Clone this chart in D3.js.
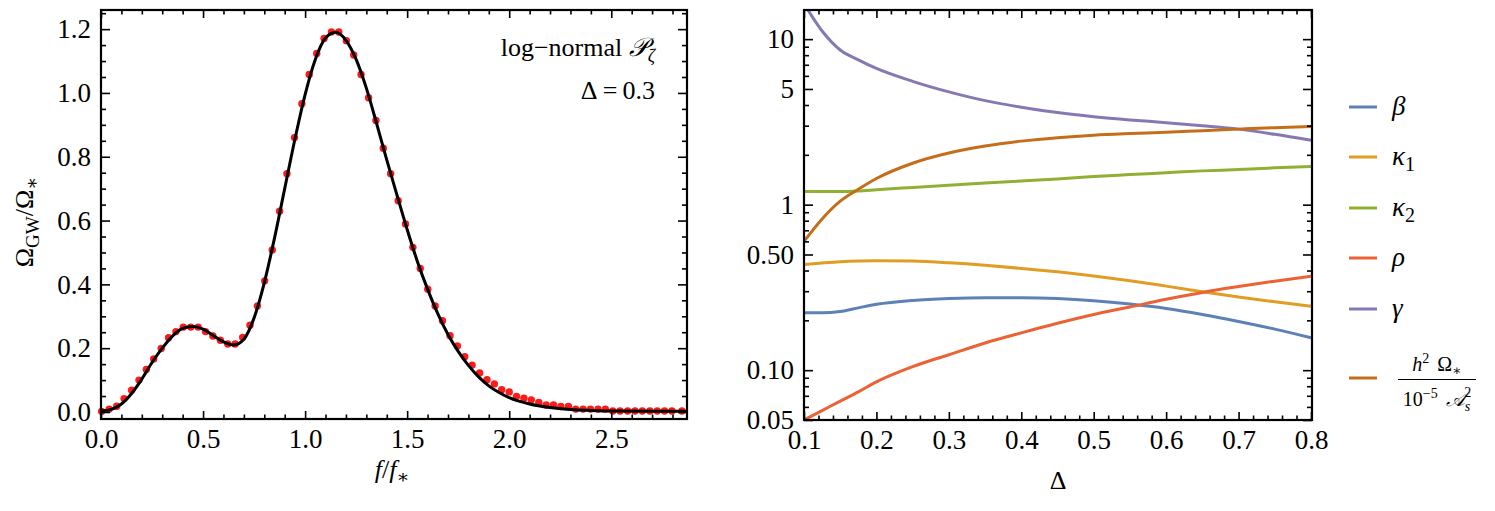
<!DOCTYPE html>
<html>
<head>
<meta charset="utf-8">
<script src="https://cdn.jsdelivr.net/npm/d3@7"></script>
<style>
  body { margin: 0; background: #fff; }
  svg text { font-family: "Liberation Serif", "Times New Roman", Tinos, Times, "DejaVu Serif", "Noto Serif", serif; fill: #000; }
</style>
</head>
<body>
<svg id="chart" width="1495" height="511"></svg>
<script>
// Left panel: numerical points (red) and the fitted curve (black), f/f* vs Omega_GW/Omega_*
var dotX = [0.003, 0.040, 0.077, 0.113, 0.150, 0.186, 0.222, 0.258, 0.295, 0.331,
            0.367, 0.403, 0.440, 0.476, 0.512, 0.548, 0.585, 0.621, 0.657, 0.694,
            0.730, 0.766, 0.802, 0.839, 0.875, 0.911, 0.948, 0.984, 1.020, 1.057,
            1.093, 1.129, 1.165, 1.202, 1.238, 1.274, 1.311, 1.347, 1.383, 1.419,
            1.456, 1.492, 1.528, 1.564, 1.601, 1.637, 1.673, 1.710, 1.746, 1.782,
            1.818, 1.855, 1.891, 1.927, 1.963, 2.000, 2.036, 2.072, 2.108, 2.145,
            2.181, 2.217, 2.253, 2.290, 2.326, 2.362, 2.398, 2.435, 2.471, 2.507,
            2.543, 2.580, 2.616, 2.652, 2.689, 2.725, 2.761, 2.797, 2.846];
var dotY = [0.002, 0.009, 0.018, 0.042, 0.068, 0.100, 0.133, 0.166, 0.199, 0.233,
            0.252, 0.266, 0.266, 0.266, 0.252, 0.238, 0.225, 0.213, 0.213, 0.234,
            0.272, 0.332, 0.411, 0.508, 0.629, 0.747, 0.860, 0.966, 1.058, 1.124,
            1.171, 1.191, 1.191, 1.164, 1.119, 1.058, 0.985, 0.914, 0.827, 0.747,
            0.662, 0.589, 0.516, 0.450, 0.385, 0.332, 0.286, 0.239, 0.207, 0.173,
            0.147, 0.122, 0.101, 0.088, 0.070, 0.063, 0.049, 0.043, 0.038, 0.030,
            0.022, 0.022, 0.017, 0.017, 0.009, 0.009, 0.009, 0.009, 0.009, 0.003,
            0.003, 0.003, 0.003, 0.003, 0.003, 0.003, 0.003, 0.003, 0.003];

var curveX = [0.00, 0.05, 0.10, 0.15, 0.20, 0.25, 0.30, 0.35, 0.40, 0.45,
              0.50, 0.55, 0.60, 0.65, 0.70, 0.75, 0.80, 0.85, 0.90, 0.95,
              1.00, 1.05, 1.10, 1.15, 1.20, 1.25, 1.30, 1.35, 1.40, 1.45,
              1.50, 1.55, 1.60, 1.65, 1.70, 1.75, 1.80, 1.85, 1.90, 1.95,
              2.00, 2.10, 2.20, 2.30, 2.40, 2.50, 2.70, 2.87];
var curveY = [0.003, 0.008, 0.025, 0.058, 0.103, 0.155, 0.200, 0.238, 0.262, 0.268,
              0.260, 0.240, 0.220, 0.210, 0.228, 0.295, 0.405, 0.545, 0.700, 0.855,
              0.995, 1.105, 1.172, 1.190, 1.165, 1.105, 1.015, 0.905, 0.790, 0.680,
              0.572, 0.472, 0.385, 0.308, 0.243, 0.190, 0.146, 0.110, 0.082, 0.061,
              0.045, 0.025, 0.014, 0.008, 0.005, 0.003, 0.002, 0.002];

var leftYTicks = [0.0, 0.2, 0.4, 0.6, 0.8, 1.0, 1.2];
var leftXTicks = [0.0, 0.5, 1.0, 1.5, 2.0, 2.5];

// Right panel: fit parameters as a function of the width Delta
var deltas = [0.1, 0.125, 0.15, 0.175, 0.2, 0.25, 0.3, 0.35, 0.4, 0.45,
              0.5, 0.55, 0.6, 0.65, 0.7, 0.75, 0.8];
var beta   = [0.222, 0.222, 0.226, 0.238, 0.250, 0.264, 0.271, 0.274, 0.274, 0.271,
              0.263, 0.251, 0.236, 0.217, 0.197, 0.177, 0.157];
var kappa1 = [0.435, 0.444, 0.452, 0.457, 0.459, 0.456, 0.445, 0.430, 0.412, 0.393,
              0.371, 0.347, 0.322, 0.298, 0.277, 0.259, 0.243];
var kappa2 = [1.20, 1.20, 1.20, 1.21, 1.23, 1.27, 1.31, 1.35, 1.39, 1.43,
              1.48, 1.52, 1.56, 1.60, 1.63, 1.67, 1.70];
var rho    = [0.050, 0.057, 0.065, 0.074, 0.085, 0.105, 0.124, 0.146, 0.168, 0.192,
              0.217, 0.241, 0.268, 0.295, 0.320, 0.345, 0.369];
var gammaP = [16.4, 11.2, 8.6, 7.5, 6.65, 5.56, 4.80, 4.25, 3.88, 3.60,
              3.40, 3.25, 3.13, 3.00, 2.86, 2.66, 2.45];
var ampl   = [0.60, 0.82, 1.05, 1.24, 1.44, 1.78, 2.05, 2.26, 2.42, 2.54,
              2.63, 2.69, 2.74, 2.80, 2.86, 2.92, 2.97];

var seriesNames  = ["beta", "kappa1", "kappa2", "rho", "gamma", "ampl"];
var seriesColors = ["#5E81B5", "#E19C24", "#8FB032", "#EB6235", "#8778B3", "#C56E1A"];

var rightXTicks = [0.1, 0.2, 0.3, 0.4, 0.5, 0.6, 0.7, 0.8];
var rightYTicks = [0.05, 0.1, 0.5, 1, 5, 10];
var rightYLabels = ["0.05", "0.10", "0.50", "1", "5", "10"];

var serif = "'Liberation Serif', 'Times New Roman', Tinos, Times, 'DejaVu Serif', 'Noto Serif', serif";

var svg = d3.select("#chart");

var leftBox  = { x0: 101, x1: 687, y0: 10, y1: 419 };
var rightBox = { x0: 804, x1: 1312, y0: 10, y1: 420 };

var xL = d3.scaleLinear().domain([0, 2.871]).range([leftBox.x0, leftBox.x1]);
var yL = d3.scaleLinear().domain([-0.022, 1.26]).range([leftBox.y1, leftBox.y0]);
var xR = d3.scaleLinear().domain([0.1, 0.8]).range([rightBox.x0, rightBox.x1 - 1]);
var yR = d3.scaleLog().domain([0.05, 15]).range([rightBox.y1, rightBox.y0]);

// minor tick values, in steps between the domain ends
function steps(lo, hi, step) {
  var out = [];
  for (var i = Math.ceil(lo / step - 1e-9); i * step <= hi + 1e-9; i++) out.push(+(i * step).toFixed(6));
  return out;
}

var logMinor = [];
[0.01, 0.1, 1, 10].forEach(function (dec) {
  for (var k = 1; k <= 9; k++) {
    var v = +(k * dec).toFixed(6);
    if (v >= 0.05 && v <= 15 && rightYTicks.indexOf(v) < 0) logMinor.push(v);
  }
});

// Draw inward ticks on one edge; labels only when a format is given.
function drawTicks(axisFn, scale, pos, values, size, fmt) {
  var g = svg.append("g")
    .attr("transform", pos)
    .call(axisFn(scale).tickValues(values).tickSize(-size).tickPadding(10)
          .tickFormat(fmt || function () { return ""; }));
  g.select(".domain").remove();
  g.attr("font-family", null).attr("font-size", null);
  g.selectAll("line").attr("stroke", "#000").attr("stroke-width", 1.6);
  g.selectAll("text").style("font-size", "27px").style("font-family", serif);
  return g;
}

function drawFrame(box, xs, ys, xMajor, xMinor, yMajor, yMinor, xFmt, yFmt) {
  var bottom = "translate(0," + box.y1 + ")", top = "translate(0," + box.y0 + ")";
  var left = "translate(" + box.x0 + ",0)", right = "translate(" + box.x1 + ",0)";

  drawTicks(d3.axisBottom, xs, bottom, xMajor, 8, xFmt);
  drawTicks(d3.axisBottom, xs, bottom, xMinor, 4.5);
  drawTicks(d3.axisTop, xs, top, xMajor, 8);
  drawTicks(d3.axisTop, xs, top, xMinor, 4.5);
  drawTicks(d3.axisLeft, ys, left, yMajor, 9, yFmt);
  drawTicks(d3.axisLeft, ys, left, yMinor, 5);
  drawTicks(d3.axisRight, ys, right, yMajor, 9);
  drawTicks(d3.axisRight, ys, right, yMinor, 5);

  svg.append("rect")
    .attr("x", box.x0).attr("y", box.y0)
    .attr("width", box.x1 - box.x0).attr("height", box.y1 - box.y0)
    .attr("fill", "none").attr("stroke", "#000").attr("stroke-width", 2.2);
}

// ---------- left panel ----------
var leftG = svg.append("g");

leftG.selectAll("circle")
  .data(dotX)
  .enter().append("circle")
  .attr("cx", function (d) { return xL(d); })
  .attr("cy", function (d, i) { return yL(dotY[i]); })
  .attr("r", 3.7)
  .attr("fill", "#FF1A1A");

var lineL = d3.line()
  .x(function (d) { return xL(d); })
  .y(function (d, i) { return yL(curveY[i]); })
  .curve(d3.curveMonotoneX);

leftG.append("path")
  .attr("d", lineL(curveX))
  .attr("fill", "none")
  .attr("stroke", "#000")
  .attr("stroke-width", 3);

drawFrame(leftBox, xL, yL,
  leftXTicks, steps(0, 2.87, 0.1).filter(function (v) { return leftXTicks.indexOf(v) < 0; }),
  leftYTicks, steps(0, 1.25, 0.05).filter(function (v) { return leftYTicks.indexOf(v) < 0; }),
  d3.format(".1f"), d3.format(".1f"));

// panel notes
var note = svg.append("text")
  .attr("x", 655).attr("y", 56)
  .attr("text-anchor", "end")
  .style("font-size", "26px");
note.append("tspan").text("log\u2212normal ");
note.append("tspan").style("font-style", "italic").text("\uD835\uDCAB");
note.append("tspan").attr("dy", 6).style("font-size", "18px").style("font-style", "italic").text("\u03B6");

svg.append("text")
  .attr("x", 655).attr("y", 99)
  .attr("text-anchor", "end")
  .style("font-size", "26px")
  .text("\u0394\u2009=\u20090.3");

// axis titles
var yTitle = svg.append("text")
  .attr("transform", "translate(33,222) rotate(-90)")
  .attr("text-anchor", "middle")
  .style("font-size", "26px");
yTitle.append("tspan").text("\u03A9");
yTitle.append("tspan").attr("dy", 6).style("font-size", "19px").text("GW");
yTitle.append("tspan").attr("dy", -6).text("/\u03A9");
yTitle.append("tspan").attr("dy", 5).style("font-size", "19px").text("\u2217");

var xTitle = svg.append("text")
  .attr("x", 392).attr("y", 478)
  .attr("text-anchor", "middle")
  .style("font-size", "26px");
xTitle.append("tspan").style("font-style", "italic").text("f");
xTitle.append("tspan").text("/");
xTitle.append("tspan").style("font-style", "italic").text("f");
xTitle.append("tspan").attr("dy", 5).style("font-size", "19px").text("\u2217");

// ---------- right panel ----------
svg.append("clipPath").attr("id", "clipR")
  .append("rect")
  .attr("x", rightBox.x0).attr("y", rightBox.y0)
  .attr("width", rightBox.x1 - rightBox.x0).attr("height", rightBox.y1 - rightBox.y0);

var allSeries = [beta, kappa1, kappa2, rho, gammaP, ampl];

var lineR = d3.line()
  .x(function (d, i) { return xR(deltas[i]); })
  .y(function (d) { return yR(d); })
  .curve(d3.curveMonotoneX);

svg.append("g").attr("clip-path", "url(#clipR)")
  .selectAll("path")
  .data(allSeries)
  .enter().append("path")
  .attr("d", function (d) { return lineR(d); })
  .attr("fill", "none")
  .attr("stroke", function (d, i) { return seriesColors[i]; })
  .attr("stroke-width", 3);

drawFrame(rightBox, xR, yR,
  rightXTicks, steps(0.1, 0.8, 0.02).filter(function (v) { return rightXTicks.indexOf(v) < 0; }),
  rightYTicks, logMinor,
  d3.format(".1f"), function (d, i) { return rightYLabels[i]; });

svg.append("text")
  .attr("x", 1058).attr("y", 489)
  .attr("text-anchor", "middle")
  .style("font-size", "26px")
  .text("\u0394");

// ---------- legend ----------
var legendY = [107, 157, 208, 258, 309, 378];
var legend = svg.append("g");

legend.selectAll("line")
  .data(seriesNames)
  .enter().append("line")
  .attr("x1", 1349).attr("x2", 1377)
  .attr("y1", function (d, i) { return legendY[i]; })
  .attr("y2", function (d, i) { return legendY[i]; })
  .attr("stroke", function (d, i) { return seriesColors[i]; })
  .attr("stroke-width", 3);

var greek = [["\u03B2", ""], ["\u03BA", "1"], ["\u03BA", "2"], ["\u03C1", ""], ["\u03B3", ""]];
greek.forEach(function (g, i) {
  var t = legend.append("text")
    .attr("x", 1392).attr("y", legendY[i] + 8)
    .style("font-size", "27px");
  t.append("tspan").style("font-style", "italic").text(g[0]);
  if (g[1]) t.append("tspan").attr("dy", 6).style("font-size", "20px").text(g[1]);
});

// the amplitude entry is a fraction
var fy = legendY[5];
var num = legend.append("text")
  .attr("x", 1437).attr("y", fy - 7)
  .attr("text-anchor", "middle")
  .style("font-size", "20px");
num.append("tspan").style("font-style", "italic").text("h");
num.append("tspan").attr("dy", -8).style("font-size", "14px").text("2");
num.append("tspan").attr("dy", 8).text("\u2009\u2009\u03A9");
num.append("tspan").attr("dy", 4).style("font-size", "14px").text("\u2217");

legend.append("line")
  .attr("x1", 1398).attr("x2", 1476)
  .attr("y1", fy + 1.5).attr("y2", fy + 1.5)
  .attr("stroke", "#000").attr("stroke-width", 1.2);

var den = legend.append("text")
  .attr("x", 1437).attr("y", fy + 28)
  .attr("text-anchor", "middle")
  .style("font-size", "20px");
den.append("tspan").text("10");
den.append("tspan").attr("dy", -8).style("font-size", "14px").text("\u22125");
den.append("tspan").attr("dy", 8).style("font-style", "italic").text("\u2009\u2009\uD835\uDC9C");
den.append("tspan").attr("dy", 5).style("font-size", "14px").style("font-style", "italic").text("s");
den.append("tspan").attr("dx", -6).attr("dy", -14).style("font-size", "14px").text("2");
</script>
</body>
</html>
